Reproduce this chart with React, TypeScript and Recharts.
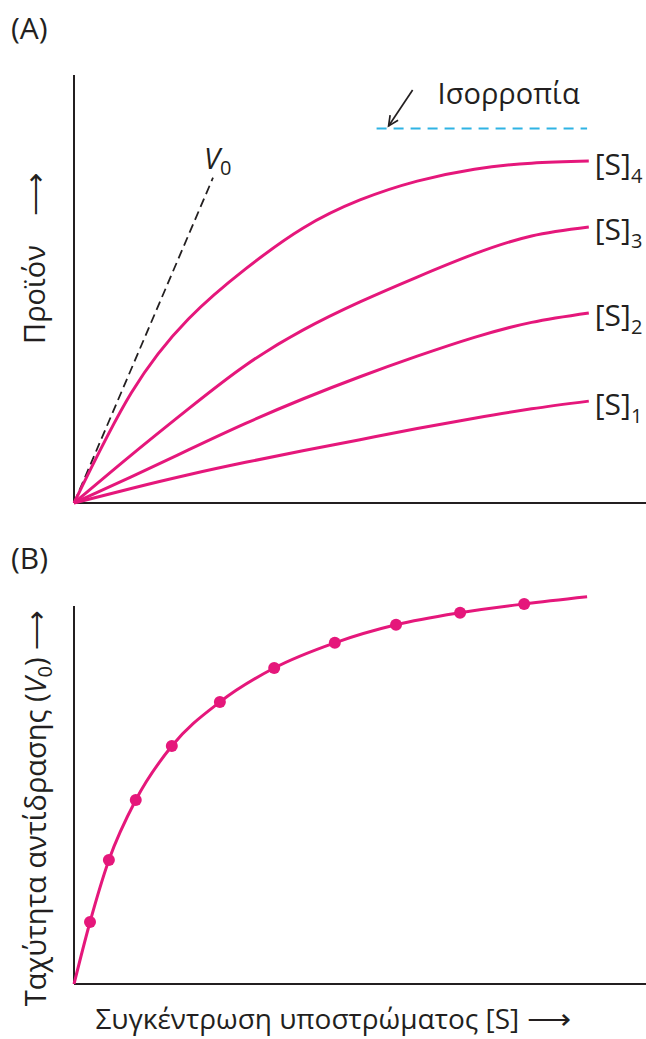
import { Line, LineChart, ReferenceLine, XAxis, YAxis } from 'recharts';

const FONT = '"Open Sans", "Noto Sans", sans-serif';
const PINK = '#e5177b';
const INK = '#231f20';
const CYAN = '#2fb3e4';

// (A) product formed over time at four substrate concentrations
const timePoints = [0, 1, 2, 3, 4, 5, 6, 7, 8, 9];
const productS1 = [0, 0.34, 0.66, 0.95, 1.22, 1.48, 1.74, 1.98, 2.2, 2.38];
const productS2 = [0, 0.61, 1.24, 1.86, 2.43, 2.95, 3.43, 3.87, 4.22, 4.44];
const productS3 = [0, 1.12, 2.2, 3.22, 4.04, 4.7, 5.28, 5.82, 6.24, 6.45];
const productS4 = [0, 2.57, 4.3, 5.47, 6.42, 7.08, 7.52, 7.8, 7.94, 7.99];
const curveSubscripts = ['1', '2', '3', '4'];

const v0Time = [0, 2.43];
const v0Product = [0, 7.6];
const equilibriumTime = [5.29, 8.97];
const equilibriumLevel = 8.75;

// (B) initial rate against substrate concentration
const substrateConc = [0, 0.28, 0.61, 1.08, 1.71, 2.55, 3.5, 4.56, 5.63, 6.75, 7.87, 8.97];
const initialRate = [0, 1.55, 3.1, 4.6, 5.95, 7.05, 7.9, 8.53, 8.98, 9.28, 9.5, 9.68];

const curvesA = [productS1, productS2, productS3, productS4].map((vals, i) => ({
  sub: curveSubscripts[i],
  data: timePoints.map((t, j) => ({ t, p: vals[j] })),
}));
const v0Data = v0Time.map((t, i) => ({ t, p: v0Product[i] }));
const eqData = equilibriumTime.map((t) => ({ t, p: equilibriumLevel }));
const rateData = substrateConc.map((s, i) => ({ t: s, p: initialRate[i] }));

const endLabel = (sub: string, last: number) => (props: any) => {
  if (props.index !== last) return null;
  return (
    <text x={props.x + 6} y={props.y + 3} dy="0.35em" fill={INK} fontFamily={FONT} fontSize={30}>
      [S]
      <tspan dy={8} fontSize={20}>
        {sub}
      </tspan>
    </text>
  );
};

const v0Label = (props: any) => {
  if (props.index !== 1) return null;
  return (
    <text x={props.x - 9} y={props.y - 9} fill={INK} fontFamily={FONT} fontSize={29}>
      <tspan fontStyle="italic">V</tspan>
      <tspan dy={6} fontSize={20}>
        0
      </tspan>
    </text>
  );
};

const ArrowShape = (props: any) => {
  const { x1, y1, x2, y2 } = props;
  const ang = Math.atan2(y2 - y1, x2 - x1);
  const len = 11;
  const h1 = [x2 - len * Math.cos(ang - 0.45), y2 - len * Math.sin(ang - 0.45)];
  const h2 = [x2 - len * Math.cos(ang + 0.45), y2 - len * Math.sin(ang + 0.45)];
  return (
    <g>
      <line x1={x1} y1={y1} x2={x2} y2={y2} stroke={INK} strokeWidth={1.7} />
      <polyline points={`${h1[0]},${h1[1]} ${x2},${y2} ${h2[0]},${h2[1]}`} fill="none" stroke={INK} strokeWidth={1.7} />
      <text x={x1 + 25} y={y1 + 4} dy="0.35em" fill={INK} fontFamily={FONT} fontSize={29}>
        Ισορροπία
      </text>
    </g>
  );
};

const RateDot = (props: any) => {
  const { cx, cy, index } = props;
  if (index === 0 || index === rateData.length - 1) return <g key={`d${index}`} />;
  return <circle key={`d${index}`} cx={cx} cy={cy} r={6} fill={PINK} />;
};

const Arrow = ({ len }: { len: number }) => (
  <tspan textLength={len} lengthAdjust="spacingAndGlyphs">
    ⟶
  </tspan>
);

function PanelA() {
  return (
    <LineChart width={646} height={520} margin={{ top: 75, right: 0, bottom: 17, left: 74 }}>
      <XAxis type="number" dataKey="t" domain={[0, 10]} hide />
      <YAxis type="number" dataKey="p" domain={[0, 10]} hide />
      <ReferenceLine y={0} stroke={INK} strokeWidth={2} />
      <ReferenceLine segment={[{ x: 0, y: 0 }, { x: 0, y: 10 }]} stroke={INK} strokeWidth={2} />
      <ReferenceLine segment={[{ x: 5.92, y: 9.65 }, { x: 5.5, y: 8.81 }]} shape={ArrowShape} />
      <Line
        data={eqData}
        dataKey="p"
        stroke={CYAN}
        strokeWidth={2}
        strokeDasharray="10 7"
        dot={false}
        isAnimationActive={false}
      />
      <Line
        data={v0Data}
        dataKey="p"
        stroke={INK}
        strokeWidth={1.8}
        strokeDasharray="9 5"
        dot={false}
        label={v0Label}
        isAnimationActive={false}
      />
      {curvesA.map((c) => (
        <Line
          key={c.sub}
          data={c.data}
          dataKey="p"
          type="natural"
          stroke={PINK}
          strokeWidth={3}
          dot={false}
          label={endLabel(c.sub, c.data.length - 1)}
          isAnimationActive={false}
        />
      ))}
    </LineChart>
  );
}

function PanelB() {
  return (
    <LineChart width={646} height={499} margin={{ top: 44, right: 0, bottom: 55, left: 74 }}>
      <XAxis type="number" dataKey="t" domain={[0, 10]} hide />
      <YAxis type="number" dataKey="p" domain={[0, 10]} hide />
      <ReferenceLine y={0} stroke={INK} strokeWidth={2} />
      <ReferenceLine segment={[{ x: 0, y: 0 }, { x: 0, y: 9.45 }]} stroke={INK} strokeWidth={2} />
      <Line
        data={rateData}
        dataKey="p"
        type="monotone"
        stroke={PINK}
        strokeWidth={3}
        dot={RateDot}
        isAnimationActive={false}
      />
    </LineChart>
  );
}

export default function App() {
  return (
    <div style={{ position: 'absolute', left: 0, top: 0, width: 646, height: 1039, background: '#fff' }}>
      <div style={{ position: 'absolute', left: 0, top: 0 }}>
        <PanelA />
      </div>
      <div style={{ position: 'absolute', left: 0, top: 540 }}>
        <PanelB />
      </div>
      <svg
        width={646}
        height={1039}
        style={{ position: 'absolute', left: 0, top: 0, pointerEvents: 'none' }}
        fontFamily={FONT}
        fill={INK}
      >
        <text x={11} y={39} fontSize={30}>
          (A)
        </text>
        <text x={11} y={569} fontSize={30}>
          (B)
        </text>
        <text x={0} y={0} fontSize={29} textAnchor="middle" transform="translate(45 258) rotate(-90)">
          Προϊόν{'\u2002\u2002'}
          <Arrow len={44} />
        </text>
        <text x={0} y={0} fontSize={29} textAnchor="middle" transform="translate(46 808) rotate(-90)">
          Ταχύτητα αντίδρασης (<tspan fontStyle="italic">V</tspan>
          <tspan dy={6} fontSize={20}>
            0
          </tspan>
          <tspan dy={-6}>) </tspan>
          <Arrow len={40} />
        </text>
        <text x={333} y={1029} fontSize={28} textAnchor="middle">
          Συγκέντρωση υποστρώματος [S]{' '}
          <Arrow len={44} />
        </text>
      </svg>
    </div>
  );
}
